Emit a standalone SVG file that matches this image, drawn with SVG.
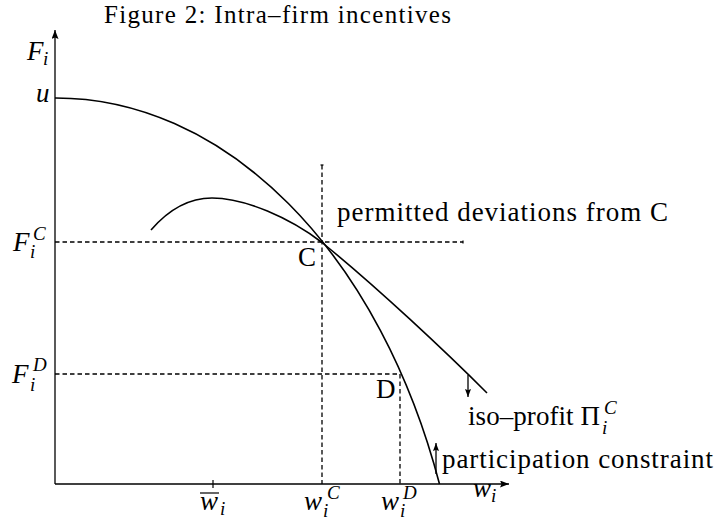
<svg xmlns="http://www.w3.org/2000/svg" width="719" height="520" viewBox="0 0 719 520">
<defs>
<marker id="ah" viewBox="0 0 9 7" refX="9" refY="3.5" markerWidth="9" markerHeight="7" orient="auto" markerUnits="userSpaceOnUse">
<path d="M0,0 L9,3.5 L0,7 L1.5,3.5 z" fill="#000"/>
</marker>
<marker id="ahs" viewBox="0 0 8 6" refX="8" refY="3" markerWidth="8" markerHeight="6" orient="auto" markerUnits="userSpaceOnUse">
<path d="M0,0 L8,3 L0,6 L1.2,3 z" fill="#000"/>
</marker>
</defs>
<style>
.t{font-family:"Liberation Serif","Times New Roman",serif;font-size:27px;fill:#000}
.m{font-family:"Liberation Serif","Times New Roman",serif;font-size:27px;font-style:italic;fill:#000}
.s{font-family:"Liberation Serif","Times New Roman",serif;font-size:19px;fill:#000}
.si{font-family:"Liberation Serif","Times New Roman",serif;font-size:19px;font-style:italic;fill:#000}
.ax{stroke:#000;stroke-width:1.3;fill:none}
.cv{stroke:#000;stroke-width:1.6;fill:none}
.dash{stroke:#000;stroke-width:1.3;fill:none;stroke-dasharray:4.5 3}
.tk{stroke:#000;stroke-width:1.2}
</style>
<rect width="719" height="520" fill="#fff"/>
<text id="title" class="t" x="104" y="23" textLength="347" style="font-size:25px">Figure 2: Intra–firm incentives</text>
<g id="axes">
<line class="ax" x1="55" y1="484" x2="55" y2="30" marker-end="url(#ah)"/>
<line class="ax" x1="55" y1="484" x2="509" y2="484" marker-end="url(#ah)"/>
<line class="tk" x1="213" y1="480" x2="213" y2="488"/>
</g>
<g id="guides">
<line class="dash" x1="322" y1="165" x2="322" y2="484"/>
<line class="tk" x1="320.5" y1="165" x2="323.5" y2="165"/>
<line class="dash" x1="55" y1="242" x2="463" y2="242"/>
<line class="tk" x1="463" y1="240.5" x2="463" y2="243.5"/>
<line class="dash" x1="55" y1="374" x2="400" y2="374"/>
<line class="dash" x1="400" y1="374" x2="400" y2="484"/>
</g>
<g id="participation-curve">
<path class="cv" d="M55,98 A410.8,600 0 0 1 439.5,484"/>
<line class="ax" x1="436" y1="474" x2="436" y2="443" marker-end="url(#ahs)"/>
</g>
<g id="iso-profit-curve">
<path class="cv" d="M151,230 C170,208 190,198 212,198 C245,198 290,218 322,242.5 C377,287 447,353 487,393" stroke-width="1.8"/>
<line class="ax" x1="468" y1="375" x2="468" y2="397" marker-end="url(#ahs)"/>
</g>
<g id="labels">
<text class="m" x="27" y="60">F</text><text class="si" x="43" y="65">i</text>
<text class="m" x="36" y="102">u</text>
<text class="m" x="13" y="251">F</text><text class="si" x="33" y="240">C</text><text class="si" x="30" y="258">i</text>
<text class="m" x="12" y="383">F</text><text class="si" x="33" y="371">D</text><text class="si" x="30" y="391">i</text>
<text class="m" x="200" y="510">w</text><line class="tk" x1="200" y1="493" x2="219" y2="493"/><text class="si" x="220" y="515">i</text>
<text class="m" x="304" y="510">w</text><text class="si" x="327" y="499">C</text><text class="si" x="323" y="517">i</text>
<text class="m" x="381" y="510">w</text><text class="si" x="403" y="499">D</text><text class="si" x="400" y="517">i</text>
<text class="m" x="473" y="497">w</text><text class="si" x="491" y="502">i</text>
<text class="t" x="298" y="266">C</text>
<text class="t" x="376" y="398">D</text>
<text class="t" x="337" y="221" textLength="331">permitted deviations from C</text>
<text class="t" x="468" y="425" textLength="132">iso–profit Π</text><text class="si" x="604" y="414">C</text><text class="si" x="602" y="434">i</text>
<text class="t" x="442" y="468" textLength="271">participation constraint</text>
</g>
</svg>
